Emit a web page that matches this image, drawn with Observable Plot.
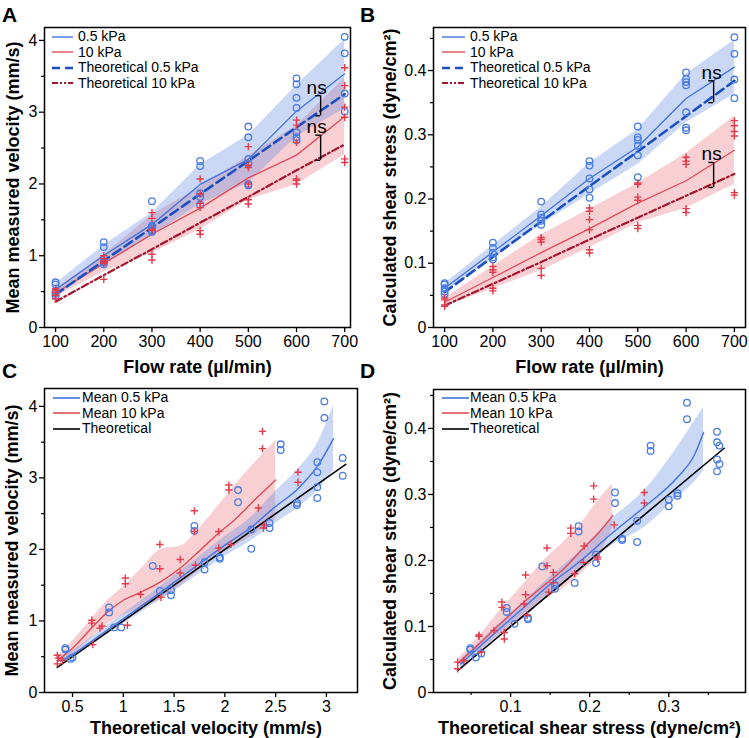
<!DOCTYPE html>
<html>
<head>
<meta charset="utf-8">
<script src="https://cdn.jsdelivr.net/npm/d3@7"></script>
<script src="https://cdn.jsdelivr.net/npm/@observablehq/plot@0.6"></script>
<style>
  body { margin: 0; background: #fff; font-family: "Liberation Sans", Arial, Helvetica, sans-serif; }
  #fig { position: relative; width: 749px; height: 738px; overflow: hidden; background: #fff; }
  .panel { position: absolute; }
  .letter { position: absolute; font-weight: bold; font-size: 21px; line-height: 1; color: #000; }
  .lg-row { position: absolute; display: flex; align-items: center; height: 15px; font-size: 14px; line-height: 15px; white-space: nowrap; color: #000; }
  .lg-row svg { display: block; }
</style>
</head>
<body>
<div id="fig"></div>
<script>
// ---- Flow-rate experiments (panels A and B) ----
const flowRates = [100, 200, 300, 400, 500, 600, 700];

// Mean measured velocity (mm/s), one list of repeats per flow rate
const velocitySoft = [
  [0.63, 0.60, 0.49, 0.47, 0.44],
  [1.19, 1.12, 0.92, 0.91, 0.88],
  [1.76, 1.42, 1.40, 1.36, 1.35, 1.33],
  [2.32, 2.25, 1.87, 1.82, 1.71],
  [2.80, 2.65, 2.35, 2.28, 2.00, 1.98],
  [3.47, 3.39, 3.20, 3.06, 2.72, 2.65, 2.61],
  [4.05, 3.82, 3.26, 3.01]
];
const velocityStiff = [
  [0.54, 0.52, 0.49, 0.45, 0.40],
  [1.00, 0.96, 0.93, 0.91, 0.89, 0.67],
  [1.60, 1.52, 1.37, 1.35, 1.02, 0.94],
  [2.07, 1.86, 1.73, 1.67, 1.35, 1.30],
  [2.52, 2.26, 2.23, 2.00, 1.78, 1.72],
  [2.89, 2.82, 2.58, 2.07, 2.05, 2.00],
  [3.62, 3.37, 3.07, 2.93, 2.35, 2.30]
];
const velocitySoftTheory = [0.46, 0.93, 1.39, 1.86, 2.32, 2.79, 3.25];
const velocityStiffTheory = [0.36, 0.73, 1.09, 1.46, 1.82, 2.19, 2.55];

// Calculated shear stress (dyne/cm²)
const shearSoft = [
  [0.069, 0.067, 0.061, 0.056, 0.052],
  [0.132, 0.124, 0.116, 0.109, 0.106],
  [0.196, 0.176, 0.171, 0.166, 0.160],
  [0.259, 0.252, 0.232, 0.215, 0.202],
  [0.313, 0.296, 0.292, 0.283, 0.268, 0.234],
  [0.397, 0.387, 0.382, 0.377, 0.335, 0.311, 0.307],
  [0.452, 0.426, 0.386, 0.357]
];
const shearStiff = [
  [0.046, 0.043, 0.035, 0.033],
  [0.095, 0.090, 0.086, 0.061, 0.057],
  [0.140, 0.137, 0.133, 0.092, 0.081],
  [0.186, 0.181, 0.168, 0.152, 0.121, 0.116],
  [0.225, 0.223, 0.203, 0.198, 0.159, 0.154],
  [0.265, 0.259, 0.254, 0.185, 0.179],
  [0.322, 0.314, 0.305, 0.298, 0.210, 0.206]
];
const shearSoftTheory = [0.055, 0.110, 0.165, 0.220, 0.274, 0.329, 0.384];
const shearStiffTheory = [0.034, 0.068, 0.102, 0.137, 0.171, 0.205, 0.239];

// "ns" comparisons: flow rate, upper end, lower end
const velocityBrackets = [
  {q: 650, top: 3.23, bottom: 2.95},
  {q: 650, top: 2.68, bottom: 2.33}
];
const shearBrackets = [
  {q: 657, top: 0.384, bottom: 0.350},
  {q: 657, top: 0.257, bottom: 0.218}
];

// ---- Measured vs theoretical, per sample (panels C and D) ----
// [theoretical, measured]
const velocitySoftPairs = [
  [2.98,4.07],[2.98,3.84],[2.55,3.47],[2.55,3.39],[3.16,3.28],[3.16,3.03],[2.91,3.22],[2.91,3.08],
  [2.91,2.87],[2.91,2.72],[2.71,2.65],[2.71,2.62],[2.13,2.83],[2.13,2.66],[1.70,2.33],[1.70,2.26],
  [2.26,2.28],[2.44,2.37],[2.44,2.30],[2.26,2.01],[1.29,1.77],[1.36,1.42],[1.47,1.43],[1.47,1.36],
  [1.80,1.82],[1.80,1.72],[1.95,1.89],[1.95,1.87],[0.86,1.19],[0.86,1.12],[0.91,0.91],[0.98,0.91],
  [0.43,0.62],[0.43,0.60],[0.48,0.47],[0.50,0.49]
];
const velocityStiffPairs = [
  [2.37,3.65],[2.37,3.41],[2.72,3.08],[2.72,2.94],[2.04,2.90],[2.04,2.83],[1.70,2.54],[1.70,2.25],
  [2.33,2.58],[2.39,2.34],[2.38,2.30],[1.94,2.25],[1.36,2.07],[1.94,2.02],[2.06,2.07],[1.36,1.73],
  [1.56,1.86],[1.56,1.67],[1.71,1.78],[1.02,1.60],[1.02,1.52],[1.17,1.37],[1.37,1.33],[0.69,1.01],
  [0.69,0.97],[0.79,0.93],[0.77,0.90],[1.04,0.94],[0.70,0.67],[0.35,0.52],[0.35,0.40],[0.40,0.45],
  [0.36,0.48]
];
const shearSoftPairs = [
  [0.323,0.439],[0.323,0.414],[0.361,0.395],[0.361,0.379],[0.364,0.374],[0.361,0.353],[0.364,0.346],
  [0.361,0.335],[0.277,0.374],[0.277,0.366],[0.300,0.292],[0.300,0.282],[0.311,0.302],[0.311,0.298],
  [0.232,0.303],[0.232,0.287],[0.186,0.252],[0.186,0.244],[0.260,0.260],[0.260,0.228],[0.241,0.233],
  [0.241,0.231],[0.140,0.191],[0.095,0.128],[0.095,0.122],[0.105,0.104],[0.122,0.113],[0.122,0.111],
  [0.049,0.067],[0.049,0.065],[0.056,0.053],[0.063,0.059],[0.156,0.163],[0.156,0.157],[0.181,0.166],
  [0.208,0.209],[0.208,0.196]
];
const shearStiffPairs = [
  [0.205,0.313],[0.205,0.293],[0.269,0.303],[0.269,0.287],[0.231,0.254],[0.176,0.249],[0.176,0.241],
  [0.193,0.222],[0.146,0.219],[0.146,0.192],[0.192,0.197],[0.119,0.178],[0.119,0.148],[0.154,0.182],
  [0.154,0.166],[0.181,0.180],[0.148,0.152],[0.117,0.134],[0.121,0.117],[0.089,0.137],[0.089,0.129],
  [0.092,0.091],[0.092,0.081],[0.079,0.094],[0.060,0.087],[0.060,0.085],[0.063,0.061],[0.033,0.046],
  [0.033,0.036],[0.041,0.048],[0.210,0.205],[0.210,0.202]
];

// Smoothed means with their confidence bands
const velSoftFitX    = [0.38, 0.50, 0.75, 1.00, 1.25, 1.50, 1.75, 2.00, 2.26, 2.49, 2.72, 2.91, 3.07];
const velSoftFitMean = [0.44, 0.53, 0.78, 1.03, 1.28, 1.54, 1.80, 2.06, 2.31, 2.59, 2.85, 3.16, 3.55];
const velSoftFitLow  = [0.40, 0.48, 0.72, 0.96, 1.19, 1.42, 1.66, 1.90, 2.12, 2.36, 2.58, 2.82, 3.10];
const velSoftFitHigh = [0.48, 0.58, 0.84, 1.10, 1.36, 1.63, 1.90, 2.18, 2.45, 2.80, 3.12, 3.48, 4.01];

const velStiffFitX    = [0.35, 0.50, 0.70, 0.84, 1.00, 1.17, 1.37, 1.57, 1.75, 1.93, 2.10, 2.30, 2.50];
const velStiffFitMean = [0.45, 0.62, 0.92, 1.12, 1.29, 1.40, 1.55, 1.75, 1.98, 2.22, 2.42, 2.70, 2.97];
const velStiffFitLow  = [0.40, 0.53, 0.78, 0.95, 1.08, 1.18, 1.30, 1.50, 1.72, 1.90, 2.05, 2.22, 2.42];
const velStiffFitHigh = [0.50, 0.72, 1.05, 1.28, 1.48, 1.72, 2.00, 2.05, 2.30, 2.60, 2.90, 3.22, 3.52];

const shearSoftFitX    = [0.037, 0.079, 0.117, 0.151, 0.184, 0.227, 0.269, 0.311, 0.332, 0.344];
const shearSoftFitMean = [0.043, 0.089, 0.129, 0.165, 0.195, 0.240, 0.281, 0.326, 0.359, 0.394];
const shearSoftFitLow  = [0.036, 0.080, 0.119, 0.152, 0.180, 0.222, 0.250, 0.296, 0.318, 0.336];
const shearSoftFitHigh = [0.050, 0.097, 0.138, 0.176, 0.210, 0.262, 0.306, 0.372, 0.410, 0.432];

const shearStiffFitX    = [0.033, 0.058, 0.087, 0.117, 0.142, 0.167, 0.193, 0.210, 0.229];
const shearStiffFitMean = [0.044, 0.071, 0.104, 0.137, 0.162, 0.187, 0.220, 0.240, 0.268];
const shearStiffFitLow  = [0.038, 0.062, 0.088, 0.112, 0.140, 0.158, 0.185, 0.205, 0.250];
const shearStiffFitHigh = [0.050, 0.082, 0.125, 0.165, 0.200, 0.228, 0.262, 0.290, 0.316];

// Line of identity (theoretical) extents
const velocityIdentity = [0.35, 3.19];
const shearIdentity = [0.033, 0.37];

// Axis ticks
const flowTicks = [100, 200, 300, 400, 500, 600, 700];
const velocityTicks = [0, 1, 2, 3, 4];
const velocityMinor = [0.5, 1.5, 2.5, 3.5];
const shearTicks = [0, 0.1, 0.2, 0.3, 0.4];
const shearMinor = [0.05, 0.15, 0.25, 0.35, 0.45];
const theoVelocityTicks = [0.5, 1, 1.5, 2, 2.5, 3];
const theoShearTicks = [0.1, 0.2, 0.3];
const theoShearMinor = [0.05, 0.15, 0.25, 0.35];

// ---- Styling ----
const BLUE_PT = "#4a7de3";
const RED_PT = "#e23b4b";
const BLUE_LINE = "#4272de";
const RED_LINE = "#e04b57";
const BLUE_FILL = "#4f7fe0";
const RED_FILL = "#e8646e";
const THEORY_BLUE = "#1a4fbf";
const THEORY_RED = "#a3162d";
const FONT = "'Liberation Sans', Arial, Helvetica, sans-serif";

const fig = document.getElementById("fig");

function flatten(groups) {
  return flowRates.flatMap((q, i) => groups[i].map(v => ({q, v})));
}
function summarize(groups) {
  return flowRates.map((q, i) => {
    const m = d3.mean(groups[i]);
    const s = d3.deviation(groups[i]);
    return {q, mean: m, lo: m - s, hi: m + s};
  });
}
function fitRows(xs, mean, lo, hi) {
  return xs.map((x, i) => ({x, mean: mean[i], lo: lo[i], hi: hi[i]}));
}

function axes({xTicks, xMinor, yTicks, yMinor, yFormat, xFormat}) {
  const m = [
    Plot.axisX({ticks: xTicks, tickSize: 5, tickPadding: 3, strokeWidth: 1.3, tickFormat: xFormat, label: null}),
    Plot.axisY({ticks: yTicks, tickSize: 5, tickPadding: 2, strokeWidth: 1.3, tickFormat: yFormat, label: null})
  ];
  if (xMinor) m.push(Plot.axisX({ticks: xMinor, tickSize: 3, strokeWidth: 1.2, tickFormat: () => null, label: null}));
  if (yMinor) m.push(Plot.axisY({ticks: yMinor, tickSize: 3, strokeWidth: 1.2, tickFormat: () => null, label: null}));
  return m;
}
function titles(xLabel, yLabel, xdy, ydx, xdx = 0) {
  return [
    Plot.text([xLabel], {text: d => d, frameAnchor: "bottom", textAnchor: "middle", lineAnchor: "middle",
      dy: xdy, dx: xdx, fontSize: 18, fontWeight: "bold"}),
    Plot.text([yLabel], {text: d => d, frameAnchor: "left", textAnchor: "middle", lineAnchor: "middle",
      rotate: -90, dx: ydx, fontSize: 18, fontWeight: "bold"})
  ];
}
function place(svg, left, top) {
  svg.classList.add("panel");
  svg.style.left = left + "px";
  svg.style.top = top + "px";
  fig.appendChild(svg);
}

function flowPanel({soft, stiff, softTheory, stiffTheory, brackets, xDomain, yDomain, yTicks, yMinor, yFormat,
                    yLabel, width, marginLeft, marginRight, ydx, nsDx}) {
  const softSum = summarize(soft);
  const stiffSum = summarize(stiff);
  const theory = flowRates.map((q, i) => ({q, soft: softTheory[i], stiff: stiffTheory[i]}));
  const span = 10;
  return Plot.plot({
    width, height: 380,
    marginLeft, marginRight, marginTop: 27, marginBottom: 53,
    style: {fontFamily: FONT, fontSize: "16px", color: "#000", background: "transparent", overflow: "visible"},
    x: {domain: xDomain},
    y: {domain: yDomain},
    marks: [
      Plot.areaY(stiffSum, {x: "q", y1: "lo", y2: "hi", fill: RED_FILL, fillOpacity: 0.3}),
      Plot.areaY(softSum, {x: "q", y1: "lo", y2: "hi", fill: BLUE_FILL, fillOpacity: 0.3}),
      Plot.lineY(stiffSum, {x: "q", y: "mean", stroke: RED_LINE, strokeWidth: 1.3}),
      Plot.lineY(softSum, {x: "q", y: "mean", stroke: BLUE_LINE, strokeWidth: 1.3}),
      Plot.lineY(theory, {x: "q", y: "soft", stroke: THEORY_BLUE, strokeWidth: 2.6, strokeDasharray: "9,5"}),
      Plot.lineY(theory, {x: "q", y: "stiff", stroke: THEORY_RED, strokeWidth: 2.2, strokeDasharray: "7,3,2,3"}),
      Plot.dot(flatten(soft), {x: "q", y: "v", r: 3.3, stroke: BLUE_PT, strokeWidth: 1.3}),
      Plot.dot(flatten(stiff), {x: "q", y: "v", r: 2.5, symbol: "plus", stroke: RED_PT, strokeWidth: 1.4}),
      Plot.ruleX(brackets, {x: "q", y1: "bottom", y2: "top", stroke: "#000", strokeWidth: 1.4}),
      Plot.ruleY(brackets, {y: "top", x1: d => d.q - span, x2: "q", stroke: "#000", strokeWidth: 1.4}),
      Plot.ruleY(brackets, {y: "bottom", x1: d => d.q - span, x2: "q", stroke: "#000", strokeWidth: 1.4}),
      Plot.text(brackets, {x: "q", y: "top", text: () => "ns", lineAnchor: "bottom", dx: nsDx, dy: -2, fontSize: 19}),
      ...axes({xTicks: flowTicks, yTicks, yMinor, yFormat}),
      Plot.frame({stroke: "#000", strokeWidth: 1.5}),
      ...titles("Flow rate (µl/min)", yLabel, 40, ydx)
    ]
  });
}

function identityPanel({softPairs, stiffPairs, softFit, stiffFit, identity, xDomain, yDomain, xTicks, xMinor,
                        yTicks, yMinor, xLabel, yLabel, width, marginLeft, marginRight, marginTop, ydx, xdx}) {
  const line = identity.map(v => ({x: v, y: v}));
  return Plot.plot({
    width, height: 378,
    marginLeft, marginRight, marginTop, marginBottom: 46,
    style: {fontFamily: FONT, fontSize: "16px", color: "#000", background: "transparent", overflow: "visible"},
    x: {domain: xDomain},
    y: {domain: yDomain},
    marks: [
      Plot.areaY(stiffFit, {x: "x", y1: "lo", y2: "hi", curve: "monotone-x", fill: RED_FILL, fillOpacity: 0.3}),
      Plot.areaY(softFit, {x: "x", y1: "lo", y2: "hi", curve: "monotone-x", fill: BLUE_FILL, fillOpacity: 0.3}),
      Plot.line(line, {x: "x", y: "y", stroke: "#000", strokeWidth: 1.6}),
      Plot.line(stiffFit, {x: "x", y: "mean", curve: "monotone-x", stroke: RED_LINE, strokeWidth: 1.4}),
      Plot.line(softFit, {x: "x", y: "mean", curve: "monotone-x", stroke: BLUE_LINE, strokeWidth: 1.4}),
      Plot.dot(softPairs, {x: d => d[0], y: d => d[1], r: 3.3, stroke: BLUE_PT, strokeWidth: 1.3}),
      Plot.dot(stiffPairs, {x: d => d[0], y: d => d[1], r: 2.5, symbol: "plus", stroke: RED_PT, strokeWidth: 1.4}),
      ...axes({xTicks, xMinor, yTicks, yMinor, xFormat: d3.format("~g"), yFormat: d3.format("~g")}),
      Plot.frame({stroke: "#000", strokeWidth: 1.5}),
      ...titles(xLabel, yLabel, 36, ydx, xdx)
    ]
  });
}

// Panel A
place(flowPanel({
  soft: velocitySoft, stiff: velocityStiff, softTheory: velocitySoftTheory, stiffTheory: velocityStiffTheory,
  brackets: velocityBrackets, xDomain: [77, 712], yDomain: [0, 4.18], yTicks: velocityTicks, yMinor: velocityMinor,
  yFormat: d3.format("~g"), yLabel: "Mean measured velocity (mm/s)",
  width: 375, marginLeft: 44, marginRight: 25, ydx: -31, nsDx: -4
}), 0, 0);

// Panel B
place(flowPanel({
  soft: shearSoft, stiff: shearStiff, softTheory: shearSoftTheory, stiffTheory: shearStiffTheory,
  brackets: shearBrackets, xDomain: [77, 723], yDomain: [0, 0.467], yTicks: shearTicks, yMinor: shearMinor,
  yFormat: d3.format("~g"), yLabel: "Calculated shear stress (dyne/cm²)",
  width: 374, marginLeft: 58, marginRight: 4, ydx: -43.5, nsDx: -2
}), 375, 0);

// Panel C
place(identityPanel({
  softPairs: velocitySoftPairs, stiffPairs: velocityStiffPairs,
  softFit: fitRows(velSoftFitX, velSoftFitMean, velSoftFitLow, velSoftFitHigh),
  stiffFit: fitRows(velStiffFitX, velStiffFitMean, velStiffFitLow, velStiffFitHigh),
  identity: velocityIdentity, xDomain: [0.224, 3.306], yDomain: [0, 4.25],
  xTicks: theoVelocityTicks, yTicks: velocityTicks, yMinor: velocityMinor,
  xLabel: "Theoretical velocity (mm/s)", yLabel: "Mean measured velocity (mm/s)",
  width: 375, marginLeft: 44, marginRight: 18, marginTop: 28, ydx: -32, xdx: 5
}), 0, 360);

// Panel D
place(identityPanel({
  softPairs: shearSoftPairs, stiffPairs: shearStiffPairs,
  softFit: fitRows(shearSoftFitX, shearSoftFitMean, shearSoftFitLow, shearSoftFitHigh),
  stiffFit: fitRows(shearStiffFitX, shearStiffFitMean, shearStiffFitLow, shearStiffFitHigh),
  identity: shearIdentity, xDomain: [0.0025, 0.397], yDomain: [0, 0.459],
  xTicks: theoShearTicks, xMinor: theoShearMinor, yTicks: shearTicks, yMinor: shearMinor,
  xLabel: "Theoretical shear stress (dyne/cm²)", yLabel: "Calculated shear stress (dyne/cm²)",
  width: 374, marginLeft: 58, marginRight: 4, marginTop: 29, ydx: -43.5, xdx: 0
}), 375, 360);

// Panel letters
[["A", 2, 4], ["B", 360, 4], ["C", 2, 360], ["D", 360, 360]].forEach(([t, x, y]) => {
  const el = document.createElement("div");
  el.className = "letter";
  el.textContent = t;
  el.style.left = x + "px";
  el.style.top = y + "px";
  fig.appendChild(el);
});

// Legends
const ROW = 15.5;
function legend(left, top, lineWidth, gap, items) {
  items.forEach((it, i) => {
    const row = document.createElement("div");
    row.className = "lg-row";
    row.style.left = left + "px";
    row.style.top = (top + i * ROW) + "px";
    const ns = "http://www.w3.org/2000/svg";
    const s = document.createElementNS(ns, "svg");
    s.setAttribute("width", lineWidth);
    s.setAttribute("height", 8);
    s.style.marginRight = gap + "px";
    const l = document.createElementNS(ns, "line");
    l.setAttribute("x1", 0); l.setAttribute("x2", lineWidth);
    l.setAttribute("y1", 4); l.setAttribute("y2", 4);
    l.setAttribute("stroke", it.stroke);
    l.setAttribute("stroke-width", it.width);
    if (it.dash) l.setAttribute("stroke-dasharray", it.dash);
    s.appendChild(l);
    row.appendChild(s);
    const span = document.createElement("span");
    span.textContent = it.label;
    row.appendChild(span);
    fig.appendChild(row);
  });
}
const flowLegend = [
  {label: "0.5 kPa", stroke: BLUE_LINE, width: 1.4},
  {label: "10 kPa", stroke: RED_LINE, width: 1.4},
  {label: "Theoretical 0.5 kPa", stroke: THEORY_BLUE, width: 2.6, dash: "8,5"},
  {label: "Theoretical 10 kPa", stroke: THEORY_RED, width: 2.2, dash: "6,2,2,2,2,2"}
];
const identityLegend = [
  {label: "Mean 0.5 kPa", stroke: BLUE_LINE, width: 1.6},
  {label: "Mean 10 kPa", stroke: RED_LINE, width: 1.6},
  {label: "Theoretical", stroke: "#000", width: 1.6}
];
legend(52, 29, 21, 5, flowLegend);
legend(442, 29, 23, 5, flowLegend);
legend(53, 390, 27, 2, identityLegend);
legend(442, 390, 27, 1, identityLegend);
</script>
</body>
</html>
